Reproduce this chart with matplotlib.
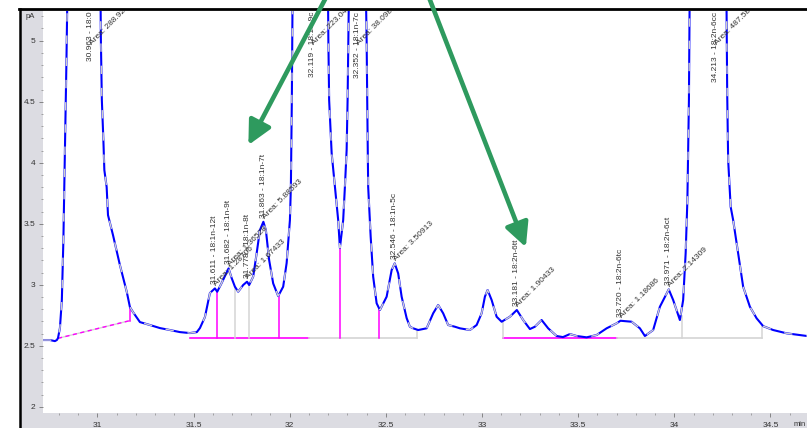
import matplotlib
matplotlib.use("Agg")
import matplotlib.pyplot as plt
from matplotlib.patches import Rectangle
from matplotlib.lines import Line2D
from matplotlib.ticker import MultipleLocator, FuncFormatter
from matplotlib.transforms import offset_copy

plt.rcParams['font.family'] = ['Liberation Sans', 'DejaVu Sans']

# FID signal: retention time (min) and detector response (pA)
time_min = [
    30.717, 30.753, 30.779, 30.789, 30.795, 30.805, 30.815, 30.823, 30.831, 30.839,
    30.844, 30.963, 31.016, 31.018, 31.023, 31.031, 31.036, 31.048, 31.055, 31.081,
    31.117, 31.153, 31.169, 31.185, 31.221, 31.273, 31.325, 31.377, 31.429, 31.481,
    31.517, 31.533, 31.559, 31.585, 31.611, 31.623, 31.646, 31.682, 31.698, 31.715,
    31.732, 31.758, 31.778, 31.789, 31.810, 31.828, 31.845, 31.863, 31.876, 31.893,
    31.914, 31.940, 31.966, 31.984, 32.001, 32.006, 32.011, 32.015, 32.119, 32.199,
    32.201, 32.205, 32.218, 32.235, 32.252, 32.261, 32.278, 32.287, 32.296, 32.301,
    32.305, 32.308, 32.352, 32.396, 32.400, 32.403, 32.408, 32.421, 32.434, 32.452,
    32.469, 32.504, 32.530, 32.546, 32.564, 32.582, 32.608, 32.625, 32.642, 32.668,
    32.712, 32.746, 32.772, 32.798, 32.824, 32.859, 32.885, 32.937, 32.972, 32.998,
    33.015, 33.029, 33.050, 33.076, 33.102, 33.145, 33.181, 33.214, 33.249, 33.275,
    33.310, 33.344, 33.388, 33.421, 33.457, 33.492, 33.544, 33.596, 33.648, 33.700,
    33.720, 33.778, 33.821, 33.847, 33.890, 33.925, 33.971, 33.994, 34.029, 34.046,
    34.059, 34.068, 34.076, 34.080, 34.213, 34.271, 34.273, 34.275, 34.280, 34.293,
    34.306, 34.332, 34.358, 34.393, 34.428, 34.462, 34.514, 34.584, 34.653, 34.690,
]
signal_pa = [
    2.547, 2.547, 2.538, 2.547, 2.563, 2.645, 2.875, 3.366, 4.104, 4.842,
    5.400, 7.900, 5.400, 5.006, 4.514, 4.186, 3.940, 3.801, 3.571, 3.407,
    3.161, 2.939, 2.817, 2.776, 2.694, 2.670, 2.645, 2.629, 2.612, 2.604,
    2.612, 2.645, 2.735, 2.932, 2.970, 2.943, 3.014, 3.134, 3.055, 2.984,
    2.943, 2.998, 3.025, 2.998, 3.066, 3.257, 3.448, 3.516, 3.448, 3.202,
    3.011, 2.907, 2.984, 3.178, 3.530, 3.803, 4.514, 5.400, 6.900, 5.400,
    5.006, 4.514, 4.080, 3.803, 3.530, 3.301, 3.530, 3.803, 4.104, 4.514,
    5.006, 5.400, 5.900, 5.400, 5.006, 4.514, 3.803, 3.393, 3.066, 2.848,
    2.793, 2.902, 3.120, 3.175, 3.093, 2.902, 2.727, 2.656, 2.643, 2.629,
    2.643, 2.766, 2.834, 2.766, 2.670, 2.656, 2.643, 2.629, 2.670, 2.766,
    2.902, 2.957, 2.875, 2.738, 2.697, 2.738, 2.793, 2.711, 2.637, 2.656,
    2.711, 2.643, 2.580, 2.571, 2.596, 2.580, 2.569, 2.588, 2.643, 2.684,
    2.705, 2.697, 2.643, 2.580, 2.629, 2.820, 2.962, 2.875, 2.711, 2.875,
    3.260, 3.694, 4.514, 5.400, 9.000, 5.400, 5.006, 4.571, 4.022, 3.639,
    3.530, 3.257, 2.984, 2.820, 2.725, 2.661, 2.629, 2.602, 2.588, 2.580,
]

# Integrated peaks
peak_rt = [30.963, 31.611, 31.682, 31.778, 31.863, 32.119, 32.352, 32.546,
           33.181, 33.720, 33.971, 34.213]
peak_name = ["18:0", "18:1n-12t", "18:1n-9t", "18:1n-8t", "18:1n-7t", "18:1n-9c",
             "18:1n-7c", "18:1n-5c", "18:2n-6tt", "18:2n-6tc", "18:2n-6ct", "18:2n-6cc"]
peak_area = ["288.92", "1.28706", "1.36528", "1.67433", "5.88593", "223.048",
             "38.0984", "3.50913", "1.90433", "1.18686", "2.14309", "487.58"]
peak_height = [7.900, 2.970, 3.134, 3.025, 3.516, 6.900, 5.900, 3.175,
               2.793, 2.705, 2.962, 9.000]

# Integration baselines
base_t0 = [30.795, 31.481, 32.100, 33.109, 33.702]
base_t1 = [31.169, 32.100, 32.662, 33.702, 34.456]
base_v0 = [2.561, 2.561, 2.561, 2.567, 2.567]
base_v1 = [2.706, 2.561, 2.561, 2.567, 2.567]
base_kind = ["dash", "mag", "gray", "mag", "gray"]

# Peak-split drop lines
drop_rt = [31.169, 31.621, 31.715, 31.788, 31.944, 32.261, 32.464, 32.662,
           33.109, 34.040, 34.456]
drop_base = [2.706, 2.561, 2.561, 2.561, 2.561, 2.561, 2.561, 2.561,
             2.567, 2.567, 2.567]
drop_top = [2.817, 2.943, 2.984, 2.998, 2.907, 3.301, 2.797, 2.630,
            2.697, 2.740, 2.665]
drop_kind = ["mag", "mag", "gray", "gray", "mag", "mag", "mag", "gray",
             "gray", "gray", "gray"]

x_ticks = [31, 31.5, 32, 32.5, 33, 33.5, 34, 34.5]
y_ticks = [2, 2.5, 3, 3.5, 4, 4.5, 5]

MAGENTA = "#ff00ff"
LGRAY = "#d4d4d4"
STRIP = "#dcdce2"
GREEN = "#2e9a5e"
LABEL_SIZE = 6

W, H = 807, 428
fig = plt.figure(figsize=(W / 100, H / 100), dpi=100)
fig.patch.set_facecolor("white")

# grey scale strips and black frame
fig.add_artist(Rectangle((20 / W, 0), 23 / W, (H - 10) / H, transform=fig.transFigure,
                         facecolor=STRIP, edgecolor="none", zorder=-2))
fig.add_artist(Rectangle((20 / W, 0), (W - 20) / W, 15 / H, transform=fig.transFigure,
                         facecolor=STRIP, edgecolor="none", zorder=-2))
fig.add_artist(Line2D([19 / W, 1], [1 - 8.5 / H, 1 - 8.5 / H], transform=fig.transFigure,
                      color="black", lw=2.0, zorder=-1))
fig.add_artist(Line2D([20 / W, 20 / W], [0, 1 - 8.5 / H], transform=fig.transFigure,
                      color="black", lw=1.8, zorder=-1))

ax = fig.add_axes([43 / W, 15 / H, (W - 43) / W, (H - 15 - 10.5) / H])
ax.set_xlim(30.717, 34.690)
ax.set_ylim(1.949, 5.2475)
for s in ax.spines.values():
    s.set_visible(False)

# baselines
for t0, t1, v0, v1, k in zip(base_t0, base_t1, base_v0, base_v1, base_kind):
    if k == "dash":
        ax.plot([t0, t1], [v0, v1], color=LGRAY, lw=1.0, zorder=2)
        ax.plot([t0, t1], [v0, v1], color=MAGENTA, lw=1.0, ls=(0, (3, 2.5)), zorder=2)
    else:
        ax.plot([t0, t1], [v0, v1], color=MAGENTA if k == "mag" else LGRAY,
                lw=1.2, zorder=2)
for t, b, top, k in zip(drop_rt, drop_base, drop_top, drop_kind):
    ax.plot([t, t], [b, top], color=MAGENTA if k == "mag" else LGRAY, lw=1.1, zorder=2)

# signal trace
ax.plot(time_min, signal_pa, color="#0000ff", lw=1.5, zorder=3, solid_joinstyle="round")
ax.plot(time_min, signal_pa, color="#cfcfcf", lw=1.0, zorder=4, dashes=(6, 10))

# peak annotations
ytop = ax.get_ylim()[1]
rt_tr = offset_copy(ax.transData, fig=fig, x=0, y=3, units="points")
area_tr = offset_copy(ax.transData, fig=fig, x=2, y=1, units="points")
for rt, name, area, h in zip(peak_rt, peak_name, peak_area, peak_height):
    label = f"{rt:.3f} - {name}"
    if h > ytop:
        # off-scale peak: label hangs from the top edge
        ax.text(rt, ytop - 0.01, label, rotation=90, ha="center", va="top",
                fontsize=LABEL_SIZE, color="#333333", clip_on=True, zorder=5)
        y_area = 4.94
    else:
        ax.text(rt, h, label, rotation=90, ha="center", va="bottom",
                fontsize=LABEL_SIZE, color="#333333", transform=rt_tr,
                clip_on=True, zorder=5)
        y_area = h
    ax.text(rt, y_area, f"Area: {area}", rotation=45, rotation_mode="anchor",
            ha="left", va="bottom", fontsize=LABEL_SIZE, color="#333333",
            transform=area_tr, clip_on=True, zorder=5)

# highlight arrows
arrow_kw = dict(arrowstyle="-|>,head_length=0.9,head_width=0.45", color=GREEN,
                lw=3.3, mutation_scale=16, shrinkA=0, shrinkB=0)
ax.annotate("", xy=(31.785, 4.145), xytext=(32.204, 5.40),
            arrowprops=arrow_kw, annotation_clip=False, zorder=6)
ax.annotate("", xy=(33.228, 3.308), xytext=(32.713, 5.40),
            arrowprops=arrow_kw, annotation_clip=False, zorder=6)

# axes ticks
ax.set_xticks(x_ticks)
ax.set_yticks(y_ticks)
ax.xaxis.set_minor_locator(MultipleLocator(0.1))
ax.yaxis.set_minor_locator(MultipleLocator(0.1))
fmt = FuncFormatter(lambda v, p: f"{v:g}")
ax.xaxis.set_major_formatter(fmt)
ax.yaxis.set_major_formatter(fmt)
ax.tick_params(which="major", direction="out", length=3, width=0.6, color="#777777",
               labelsize=6, labelcolor="#333333")
ax.tick_params(which="minor", direction="out", length=1.5, width=0.5, color="#888888")
ax.tick_params(axis="x", which="major", pad=3.5)
ax.tick_params(axis="y", which="major", pad=2.5)

fig.text(30 / W, 1 - 17 / H, "pA", fontsize=5.5, color="#333333", ha="center", va="center")
fig.text(800 / W, 1 - 424 / H, "min", fontsize=5.5, color="#333333", ha="center", va="center")

fig.savefig("out.png", dpi=100)
